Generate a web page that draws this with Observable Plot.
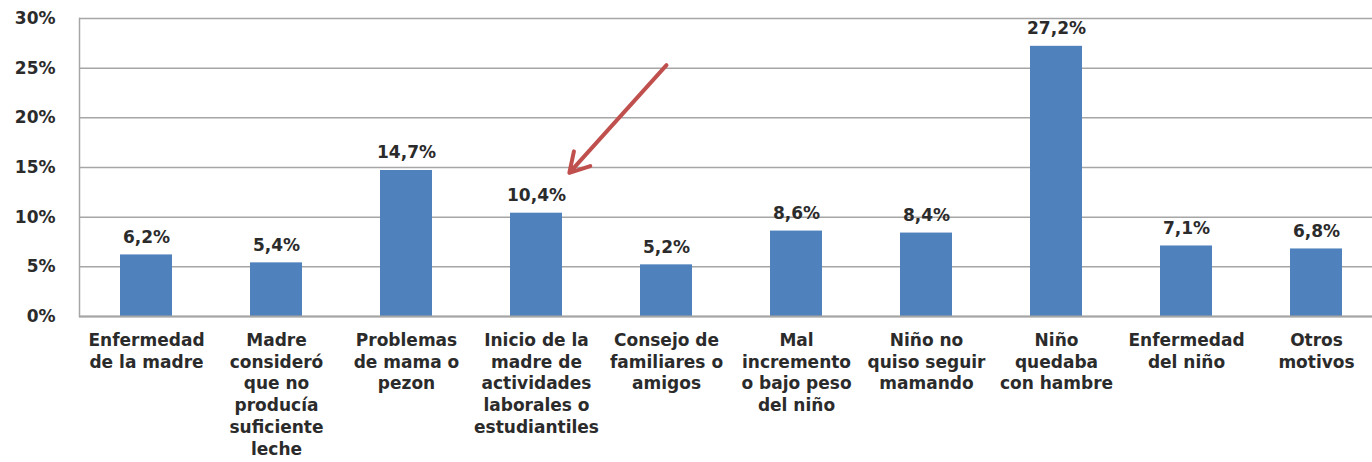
<!DOCTYPE html>
<html>
<head>
<meta charset="utf-8">
<script src="https://cdn.jsdelivr.net/npm/d3@7"></script>
<script src="https://cdn.jsdelivr.net/npm/@observablehq/plot@0.6"></script>
<style>
  html, body { margin: 0; padding: 0; background: #fff; overflow: hidden; }
  #chart svg { display: block; }
</style>
</head>
<body>
<div id="chart"></div>
<script>
const categories = [
  "Enfermedad de la madre",
  "Madre consideró que no producía suficiente leche",
  "Problemas de mama o pezon",
  "Inicio de la madre de actividades laborales o estudiantiles",
  "Consejo de familiares o amigos",
  "Mal incremento o bajo peso del niño",
  "Niño no quiso seguir mamando",
  "Niño quedaba con hambre",
  "Enfermedad del niño",
  "Otros motivos"
];
const axisLabels = [
  "Enfermedad\nde la madre",
  "Madre\nconsideró\nque no\nproducía\nsuficiente\nleche",
  "Problemas\nde mama o\npezon",
  "Inicio de la\nmadre de\nactividades\nlaborales o\nestudiantiles",
  "Consejo de\nfamiliares o\namigos",
  "Mal\nincremento\no bajo peso\ndel niño",
  "Niño no\nquiso seguir\nmamando",
  "Niño\nquedaba\ncon hambre",
  "Enfermedad\ndel niño",
  "Otros\nmotivos"
];
const values = [6.2, 5.4, 14.7, 10.4, 5.2, 8.6, 8.4, 27.2, 7.1, 6.8];
const yTicks = [0, 5, 10, 15, 20, 25, 30];
// annotation arrow, in data terms (from near "Consejo" down toward the "Inicio" label)
const arrowFrom = {cat: "Consejo de familiares o amigos", value: 25.3};
const arrowTo = {cat: "Inicio de la madre de actividades laborales o estudiantiles", value: 10.8};

const data = categories.map((c, i) => ({cat: c, label: axisLabels[i], value: values[i]}));
const fmt = v => v.toFixed(1).replace(".", ",") + "%";
const font = "'DejaVu Sans', 'Open Sans', sans-serif";
const ink = "#2b2b2b";

const chart = Plot.plot({
  width: 1372,
  height: 462,
  marginLeft: 79,
  marginRight: -11,
  marginTop: 18,
  marginBottom: 146,
  style: {fontFamily: font, background: "#fff", color: ink},
  x: {domain: categories, paddingInner: 0.6, paddingOuter: 0.3, axis: null},
  y: {domain: [0, 30], axis: null},
  marks: [
    Plot.gridY(yTicks, {stroke: "#a6a6a6", strokeOpacity: 1, strokeWidth: 1.5}),
    Plot.axisY(yTicks, {
      tickSize: 0, tickPadding: 24, label: null,
      tickFormat: d => d + "%", fontSize: 17, fontWeight: "bold", fill: ink
    }),
    Plot.frame({anchor: "left", stroke: "#a6a6a6", strokeWidth: 1.5}),
    Plot.barY(data, {x: "cat", y: "value", fill: "#4f81bd"}),
    Plot.ruleY([0], {stroke: "#a6a6a6", strokeWidth: 2}),
    Plot.text(data, {
      x: "cat", y: "value", text: d => fmt(d.value),
      lineAnchor: "bottom", dy: -12, fontSize: 17, fontWeight: "bold", fill: ink
    }),
    Plot.text(data, {
      x: "cat", y: () => 0, text: "label",
      lineAnchor: "top", dy: 14, lineHeight: 1.28, fontSize: 17, fontWeight: "bold", fill: ink
    }),
    Plot.arrow([{a: arrowFrom, b: arrowTo}], {
      x1: d => d.a.cat, y1: d => d.a.value,
      x2: d => d.b.cat, y2: d => d.b.value,
      insetEnd: 49, stroke: "#c0504d", strokeWidth: 4, headLength: 8.25, headAngle: 60
    })
  ]
});
document.getElementById("chart").appendChild(chart);
</script>
</body>
</html>
